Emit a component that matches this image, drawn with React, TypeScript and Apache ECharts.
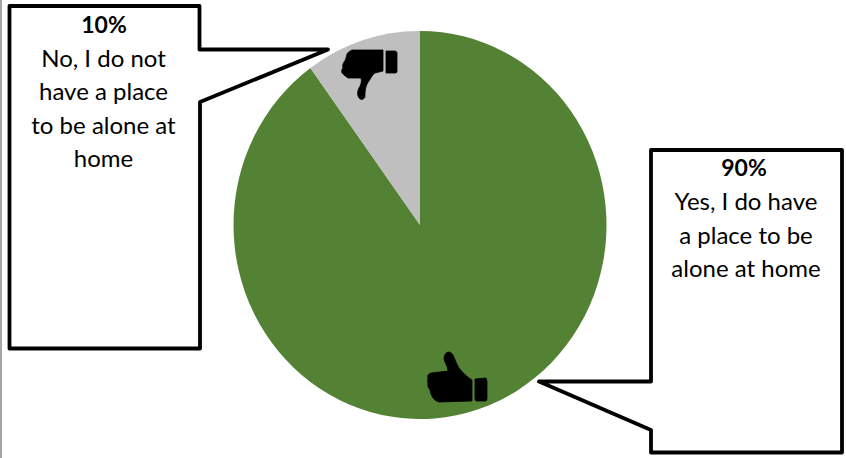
import React, { useEffect, useRef } from "react";
import * as echarts from "echarts";

const categories = ["Yes", "No"];
const values = [90, 10];
const colors = ["#548235", "#BFBFBF"];
const yesLines = ["Yes, I do have", "a place to be", "alone at home"];
const noLines = ["No, I do not", "have a place", "to be alone at", "home"];

const FONT = "Lato, Carlito, 'Open Sans', sans-serif";

echarts.graphic.registerShape(
  "thumbUp",
  echarts.graphic.extendPath(
    "M28 7 C25 8 24 11 24 14 C25 18 28 22 28 26 L11 28 C8 29 7 31 8 33 C7 35 8 37 8 39 C7 41 9 43 10 45 C11 51 14 56 19 57 L52 56 L52 35 C47 32 43 28 39 23 C36 18 35 14 33 10 C32 8 30 7 28 7 Z M55 34 L66 33 L67 36 L67 54 L66 56 L56 56 L55 54 Z",
    {}
  )
);
echarts.graphic.registerShape(
  "thumbDown",
  echarts.graphic.extendPath(
    "M22 10 L53 10 L53 31 L45 33 C42 35 41 38 39 41 C36 45 35 49 35 56 C35 59 32 60 30 59 C27 56 27 52 29 48 C31 45 32 41 31 38 L18 38 C15 36 13 34 12 33 C11 31 12 29 13 28 C12 26 13 24 14 22 C16 20 16 17 17 14 C18 12 20 11 22 10 Z M56 11 L65 11 C66 11 67 12 67 13 L67 31 C67 33 66 33 65 33 L56 33 Z",
    {}
  )
);

function textLines(lines: string[], x: number, startY: number, step: number) {
  return lines.map((t, i) => ({
    type: "text",
    silent: true,
    style: {
      x,
      y: startY + i * step,
      text: t,
      fill: "#000000",
      font: `24px ${FONT}`,
      textAlign: "center",
      textVerticalAlign: "middle",
    },
  }));
}

function callout(points: number[][]) {
  return {
    type: "polygon",
    silent: true,
    shape: { points },
    style: { fill: "#FFFFFF", stroke: "#000000", lineWidth: 3.8, lineJoin: "round" },
  };
}

export default function App() {
  const pieRef = useRef<HTMLDivElement>(null);
  const overlayRef = useRef<HTMLDivElement>(null);

  useEffect(() => {
    document.body.style.margin = "0";
    const pie = echarts.init(pieRef.current!, undefined, { renderer: "svg" });
    pie.setOption({
      animation: false,
      series: [
        {
          type: "pie",
          center: [420, 225],
          radius: [0, 194],
          startAngle: 90,
          clockwise: true,
          silent: true,
          label: { show: false },
          labelLine: { show: false },
          data: categories.map((name, i) => ({
            name,
            value: values[i],
            itemStyle: { color: colors[i] },
          })),
        },
      ],
    });

    const overlay = echarts.init(overlayRef.current!, undefined, { renderer: "svg" });
    overlay.setOption({
      animation: false,
      graphic: {
        elements: [
          { type: "rect", silent: true, shape: { x: 0, y: 0, width: 2, height: 458 }, style: { fill: "#A6A6A6" } },
          callout([[9.5, 6], [199.5, 6], [199.5, 49.5], [328, 49.5], [200, 102], [200, 348.5], [9.5, 348.5]]),
          callout([[651, 150], [842, 150], [842, 452.5], [651, 452.5], [651, 430], [539, 381.5], [651, 381.5]]),
          {
            type: "text",
            silent: true,
            style: { x: 104, y: 23.5, text: `${values[1]}%`, fill: "#000", font: `bold 23px ${FONT}`, textAlign: "center", textVerticalAlign: "middle" },
          },
          ...textLines(noLines, 103.5, 57.5, 33.3),
          {
            type: "text",
            silent: true,
            style: { x: 744, y: 167, text: `${values[0]}%`, fill: "#000", font: `bold 23px ${FONT}`, textAlign: "center", textVerticalAlign: "middle" },
          },
          ...textLines(yesLines, 746, 200.5, 33.5),
          { type: "thumbUp", silent: true, x: 420, y: 345, style: { fill: "#000", stroke: "#000", lineWidth: 0.8 } },
          { type: "thumbDown", silent: true, x: 330, y: 40, style: { fill: "#000", stroke: "#000", lineWidth: 0.8 } },
        ],
      },
    });

    return () => {
      pie.dispose();
      overlay.dispose();
    };
  }, []);

  return (
    <div style={{ position: "absolute", left: 0, top: 0, width: 846, height: 458, background: "#fff", overflow: "hidden" }}>
      <div
        ref={pieRef}
        style={{
          position: "absolute",
          left: 0,
          top: 0,
          width: 846,
          height: 458,
          transform: `scaleX(${186.5 / 194})`,
          transformOrigin: "420px 225px",
        }}
      />
      <div ref={overlayRef} style={{ position: "absolute", left: 0, top: 0, width: 846, height: 458 }} />
    </div>
  );
}
